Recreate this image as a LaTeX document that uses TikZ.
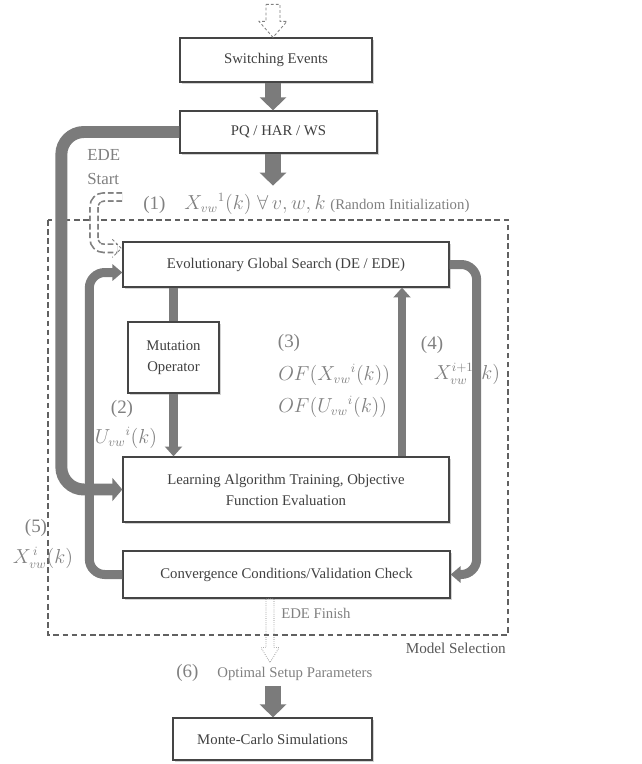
\documentclass[tikz,border=0pt]{standalone}
\usepackage{fontspec}
\setmainfont{Liberation Serif}
\usetikzlibrary{arrows.meta,shadows,calc}
\definecolor{flowgray}{HTML}{7B7B7B}
\definecolor{boxline}{HTML}{454545}
\definecolor{boxtext}{HTML}{404040}
\definecolor{lblgray}{HTML}{808080}
\newcommand{\lblsmall}{\fontsize{10.5}{13}\selectfont}
% hollow block arrow pointing down: start, length, shaft half, head half, head length, style
\newcommand{\hollowdown}[6]{%
  \draw[#6] ($(#1)+(-#3,0)$) -- ($(#1)+(#3,0)$) -- ($(#1)+(#3,#2-#5)$)
    -- ($(#1)+(#4,#2-#5)$) -- ($(#1)+(0,#2)$) -- ($(#1)+(-#4,#2-#5)$)
    -- ($(#1)+(-#3,#2-#5)$) -- cycle;}
\tikzset{
  stage/.style={draw=boxline, line width=0.9pt, fill=white, text=boxtext,
    font=\fontsize{10.5}{15}\selectfont, align=center, inner sep=0pt,
    drop shadow={shadow xshift=1.2pt, shadow yshift=-1.2pt, opacity=0.35}},
  bigflow/.style={draw=flowgray, line width=11.3pt, -{Triangle[length=9.2pt,width=18.4pt]}},
  outerflow/.style={draw=flowgray, line width=8.5pt, rounded corners=16pt,
    -{Triangle[length=7pt,width=16pt]}},
  loopflow/.style={draw=flowgray, line width=6.4pt, rounded corners=11pt,
    -{Triangle[length=7pt,width=11.5pt]}},
  thinflow/.style={draw=flowgray, line width=5.7pt},
  thintip/.style={-{Triangle[length=7pt,width=12pt]}},
  edeflow/.style={draw=lblgray, line width=7pt, dash pattern=on 4pt off 2pt,
    rounded corners=7pt, postaction={draw=white, solid, line width=4.6pt}},
  lbl/.style={text=lblgray, font=\fontsize{13.5}{17}\selectfont, inner sep=0pt},
}
\begin{document}
\begin{tikzpicture}[x=0.025cm, y=-0.025cm]
\useasboundingbox (0,0) rectangle (641,764);
\coordinate (axis) at (273,0);
\coordinate (upx) at (402,0);
\coordinate (finx) at (270,0);

% model selection region
\draw[draw=boxline!85, line width=0.8pt, dash pattern=on 4pt off 2.5pt] (48,220) rectangle (508,635);
\node[anchor=east, text=boxline!90, font=\fontsize{10.8}{13}\selectfont, inner sep=0pt] (modsel) at (506,648) {Model Selection};

% stages
\node[stage, minimum width=4.8cm, minimum height=1.1cm] (sw) at (276,60) {Switching Events};
\node[stage, minimum width=4.925cm, minimum height=1.05cm] (pq) at (278.5,132) {PQ / HAR / WS};
\node[stage, minimum width=8.15cm, minimum height=1.125cm] (egs) at (286,264.5) {Evolutionary Global Search (DE / EDE)};
\node[stage, minimum width=2.275cm, minimum height=1.775cm] (mut) at (173.5,357.5) {Mutation\\Operator};
\node[stage, minimum width=8.15cm, minimum height=1.625cm] (lat) at (286,489.5) {Learning Algorithm Training, Objective\\Function Evaluation};
\node[stage, minimum width=8.175cm, minimum height=1.175cm] (ccv) at (286.5,574.5) {Convergence Conditions/Validation Check};
\node[stage, minimum width=4.975cm, minimum height=1.05cm] (mc) at (272.5,739) {Monte-Carlo Simulations};

% labels
\node[lbl, font=\fontsize{12}{17.5}\selectfont, align=left, anchor=west] (edestart) at (87,167) {EDE\\Start};
\node[lbl, anchor=west] (init) at (143,204) {(1)\quad $X_{vw}{}^{1}(k)\;\forall\, v,w,k$ {\lblsmall(Random Initialization)}};
\node[lbl] (n2) at (122,409) {(2)};
\node[lbl] (u2) at (126,438) {$U_{vw}{}^{i}(k)$};
\node[lbl] (n3) at (289,343) {(3)};
\node[lbl, anchor=west] (ofx) at (278,375) {$OF\big(X_{vw}{}^{i}(k)\big)$};
\node[lbl, anchor=west] (ofu) at (278,407) {$OF\big(U_{vw}{}^{i}(k)\big)$};
\node[lbl] (n4) at (432,345) {(4)};
\node[lbl] (x4) at (467,374) {$X_{vw}^{i+1}(k)$};
\node[lbl] (n5) at (36,528) {(5)};
\node[lbl] (x5) at (43,558) {$X_{vw}^{\,i}(k)$};
\node[lbl, font=\lblsmall, anchor=west] (finish) at (281,613) {EDE Finish};
\node[lbl, anchor=west] (opt) at (176,673) {(6)\quad{\lblsmall Optimal Setup Parameters}};

% input and output flows
\coordinate (topin) at ($(sw.north -| axis)+(0,-33)$);
\hollowdown{topin}{33}{7}{14}{16}{draw=lblgray, line width=0.6pt, dash pattern=on 2pt off 1.5pt}
\draw[bigflow] (sw.south -| axis) -- (pq.north -| axis);
\draw[bigflow] (pq.south -| axis) -- ++(0,32);
\coordinate (fin) at (ccv.south -| finx);
\hollowdown{fin}{64}{4}{9}{15}{draw=lblgray, line width=0.5pt, densely dotted}
\draw[bigflow] ($(opt.south -| axis)+(0,4)$) -- (mc.north -| axis);

% EDE start
\coordinate (edein) at (122,197);
\draw[edeflow] (edein) -- ++(-28,0) |- ($(egs.north west)+(-5,7)$);
\draw[lblgray, line width=0.6pt, dash pattern=on 2pt off 1.5pt] ($(egs.north west)+(-10,-2)$) -- ($(egs.north west)+(-1,7)$) -- ($(egs.north west)+(-10,16)$);

% search loops
\draw[outerflow] (pq.west) -- ++(-118,0) |- (lat.west);
\draw[loopflow] (ccv.west) -- ++(-33,0) |- ($(egs.west)+(0,8)$);
\draw[loopflow] (egs.east) -- ++(27,0) |- (ccv.east);
\draw[thinflow] (egs.south -| mut) -- (mut.north);
\draw[thinflow, thintip] (mut.south) -- (lat.north -| mut);
\draw[thinflow, thintip] (lat.north -| upx) -- (egs.south -| upx);
\end{tikzpicture}
\end{document}
